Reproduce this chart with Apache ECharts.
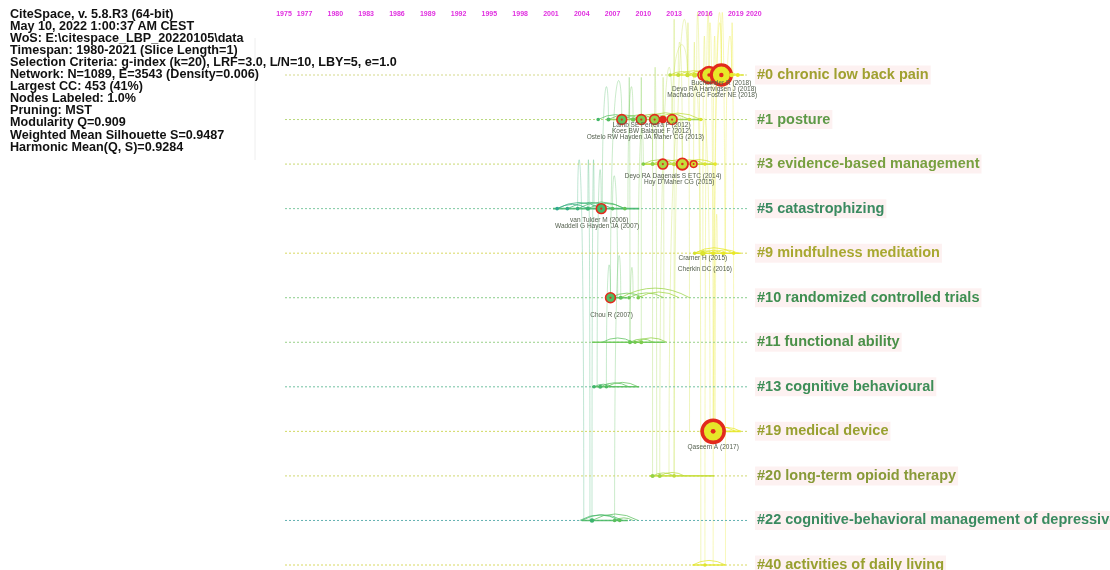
<!DOCTYPE html>
<html><head><meta charset="utf-8">
<script src="https://cdn.jsdelivr.net/npm/echarts@6/dist/echarts.min.js"></script>
<style>html,body{margin:0;padding:0;background:#fff}#c{width:1110px;height:570px}</style>
</head><body><div id="c"></div><script>
const infoLines = [
  'CiteSpace, v. 5.8.R3 (64-bit)',
  'May 10, 2022 1:00:37 AM CEST',
  'WoS: E:\\citespace_LBP_20220105\\data',
  'Timespan: 1980-2021 (Slice Length=1)',
  'Selection Criteria: g-index (k=20), LRF=3.0, L/N=10, LBY=5, e=1.0',
  'Network: N=1089, E=3543 (Density=0.006)',
  'Largest CC: 453 (41%)',
  'Nodes Labeled: 1.0%',
  'Pruning: MST',
  'Modularity Q=0.909',
  'Weighted Mean Silhouette S=0.9487',
  'Harmonic Mean(Q, S)=0.9284'
];
const yearTicks = [1975,1977,1980,1983,1986,1989,1992,1995,1998,2001,2004,2007,2010,2013,2016,2019,2020];
const clusterLabels = [
  '#0 chronic low back pain','#1 posture','#3 evidence-based management','#5 catastrophizing',
  '#9 mindfulness meditation','#10 randomized controlled trials','#11 functional ability',
  '#13 cognitive behavioural','#19 medical device','#20 long-term opioid therapy',
  '#22 cognitive-behavioral management of depressive','#40 activities of daily living'
];
const clusterLabelColors = ['#a0a030','#5e9a48','#78a040','#3a8a60','#a8a830','#3e8e50','#4a9048','#3e8e58','#98a030','#889a38','#3a8a60','#98a030'];
const clusterLineColors = ['#d4d88a','#b8d87a','#c8d870','#7cc8a0','#d8d860','#88cc88','#98d088','#70c0a0','#d0d860','#d0d870','#60b0b0','#d8d860'];
// active period of each cluster (years)
const spanStart = [2012.5,2006.5,2010.0,2001.2,2015.0,2006.8,2005.0,2005.0,2015.5,2010.6,2004.0,2014.8];
const spanEnd   = [2019.8,2015.5,2017.0,2009.6,2019.5,2008.4,2012.1,2009.6,2019.5,2016.9,2008.5,2018.0];
// nodes: [year, cluster row, citations, burst (0 none, 1 ring, 2 solid)]
const nodes = [
  [2012.6,0,4,0],[2013.4,0,5,0],[2014.3,0,6,0],[2015.0,0,8,0],[2015.8,0,30,1],[2016.4,0,80,1],[2017.6,0,125,1],[2018.6,0,6,0],[2019.2,0,5,0],
  [2005.6,1,4,0],[2006.6,1,5,0],[2007.9,1,30,1],[2009.0,1,6,0],[2009.8,1,30,1],[2011.1,1,30,1],[2011.9,1,18,2],[2012.8,1,30,1],[2014.5,1,4,0],[2015.6,1,4,0],
  [2010.0,2,4,0],[2010.9,2,5,0],[2011.9,2,30,1],[2013.0,2,6,0],[2013.8,2,40,1],[2014.9,2,14,1],[2016.0,2,4,0],[2017.0,2,4,0],
  [2001.6,3,4,0],[2002.6,3,4,0],[2003.6,3,4,0],[2004.6,3,5,0],[2005.9,3,30,1],[2007.0,3,4,0],[2008.2,3,4,0],
  [2015.0,4,4,0],[2015.8,4,8,0],[2016.8,4,5,0],[2017.8,4,5,0],[2018.8,4,4,0],
  [2006.8,5,30,1],[2007.8,5,5,0],[2008.6,5,4,0],[2009.5,5,4,0],
  [2008.7,6,5,0],[2009.2,6,4,0],[2009.8,6,5,0],
  [2005.2,7,4,0],[2005.8,7,5,0],[2006.4,7,4,0],
  [2016.8,8,150,1],
  [2010.9,9,5,0],[2011.6,9,5,0],[2013.0,9,4,0],
  [2005.0,10,6,0],[2007.2,10,4,0],[2007.7,10,4,0],
  [2016.0,11,4,0]
];
// co-citation arcs inside a cluster: [row, fromYear, toYear]
const arcs = [
  [0,2012.6,2015.0],[0,2013.4,2016.4],[0,2014.3,2017.6],[0,2015.0,2018.6],[0,2016.4,2019.2],[0,2015.8,2017.6],
  [1,2005.6,2009.0],[1,2006.6,2009.8],[1,2007.9,2011.1],[1,2009.0,2012.8],[1,2009.8,2014.5],[1,2011.1,2015.6],
  [2,2010.0,2013.0],[2,2010.9,2013.8],[2,2011.9,2014.9],[2,2013.0,2016.0],[2,2013.8,2017.0],
  [3,2001.6,2005.9],[3,2002.6,2007.0],[3,2003.6,2008.2],[3,2001.6,2004.6],[3,2004.6,2008.2],
  [4,2015.0,2018.8],[4,2015.8,2017.8],[4,2016.8,2019.2],[4,2015.0,2016.8],
  [5,2006.8,2010.0],[5,2007.8,2014.5],[5,2008.6,2012.0],[5,2009.5,2013.5],
  [6,2008.7,2011.0],[6,2009.2,2012.3],[6,2006.0,2009.0],
  [7,2005.2,2007.0],[7,2005.8,2008.6],[7,2006.4,2009.5],
  [8,2015.5,2019.0],[8,2016.8,2019.5],
  [9,2010.9,2013.0],[9,2011.6,2014.0],
  [10,2004.0,2008.0],[10,2005.0,2009.5],[10,2003.8,2007.7],[10,2007.2,2009.0],
  [11,2014.8,2018.0]
];
// links between clusters: [year1, row1, year2, row2]
const links = [
  [2016.8,8,2016.4,0],[2016.9,8,2017.6,0],[2016.5,8,2015.8,2],[2017.0,8,2017.2,4],[2015.8,4,2016.0,0],
  [2016.8,4,2017.0,0],[2018.0,4,2018.6,0],[2016.0,11,2016.4,0],[2015.6,11,2015.2,0],[2016.8,11,2017.6,0],
  [2013.0,9,2014.3,0],[2011.6,9,2012.8,1],[2012.5,9,2013.8,2],[2014.9,2,2015.0,0],[2013.8,2,2013.4,0],
  [2012.8,1,2014.3,0],[2011.9,1,2012.0,6],[2011.1,1,2011.3,9],[2009.8,1,2009.8,6],[2008.6,1,2008.7,6],
  [2007.9,1,2006.8,5],[2006.6,1,2006.0,3],[2005.9,3,2005.5,7],[2005.2,3,2005.0,10],[2004.6,3,2004.8,10],
  [2003.6,3,2004.2,10],[2006.8,5,2006.4,7],[2007.8,5,2007.2,10],[2009.0,5,2008.7,6],[2010.0,2,2009.5,5],
  [2010.9,2,2010.9,9],[2013.0,0,2013.0,9],[2014.3,0,2014.5,8],[2017.6,0,2018.0,11],[2018.6,0,2018.8,8],
  [2015.0,1,2015.5,4],[2009.0,1,2008.5,3],[2007.0,3,2007.5,5]
];
// node labels: [text, year, row, line below node]
const nodeLabels = [
  ['Buchbinder R (2018)',2017.6,0,0.2],['Deyo RA Hartvigsen J (2018)',2016.9,0,1.2],['Machado GC Foster NE (2018)',2016.7,0,2.2],
  ['Lamb SE Ferreira P (2012)',2010.8,1,-0.2],['Koes BW Balagué F (2012)',2010.8,1,0.7],['Ostelo RW Hayden JA Maher CG (2013)',2010.2,1,1.7],
  ['Deyo RA Dagenais S ETC (2014)',2012.9,2,0.8],['Hoy D Maher CG (2015)',2013.5,2,1.8],
  ['van Tulder M (2006)',2005.7,3,0.7],['Waddell G Hayden JA (2007)',2005.5,3,1.7],
  ['Cramer H (2015)',2015.8,4,-0.3],['Cherkin DC (2016)',2016.0,4,1.5],
  ['Chou R (2007)',2006.9,5,1.7],
  ['Qaseem A (2017)',2016.8,8,1.5]
];

function yearColor(y, a) {
  const st = [[2000,[40,160,160]],[2005,[60,180,110]],[2009,[110,200,80]],[2013,[190,220,60]],[2017,[232,232,40]]];
  let c = st[st.length-1][1];
  if (y <= st[0][0]) c = st[0][1];
  else for (let k=0;k<st.length-1;k++){
    if (y>=st[k][0] && y<=st[k+1][0]) {
      const t=(y-st[k][0])/(st[k+1][0]-st[k][0]);
      c = st[k][1].map((v,j)=>Math.round(v+(st[k+1][1][j]-v)*t));
      break;
    }
  }
  return 'rgba('+c[0]+','+c[1]+','+c[2]+','+a+')';
}
const radius = c => 0.9*Math.sqrt(c);
const FONT = '"Liberation Sans", Arial, sans-serif';

const chart = echarts.init(document.getElementById('c'), null, {renderer:'canvas'});
chart.setOption({
  animation:false,
  backgroundColor:'#ffffff',
  title:{
    text: infoLines.join('\n'), left:5, top:3,
    textStyle:{fontSize:12.6, fontWeight:'bold', color:'#111', lineHeight:12.1, fontFamily:FONT}
  },
  graphic:[{type:'line', shape:{x1:255,y1:38,x2:255,y2:160}, style:{stroke:'#eeeeee', lineWidth:1}}],
  grid:{left:284, right:364, top:75, bottom:5},
  xAxis:{type:'value', min:1975, max:2020, position:'top',
    axisLine:{show:false}, axisTick:{show:false}, splitLine:{show:false},
    axisLabel:{customValues:yearTicks, showMinLabel:true, showMaxLabel:true, hideOverlap:false,
      color:'#e030e0', fontSize:7, fontWeight:'bold', margin:57, fontFamily:FONT,
      alignMaxLabel:'left', formatter:v=>String(v)}},
  yAxis:{type:'value', min:0, max:11, inverse:true, show:false},
  series:[
    {type:'custom', data:links, z:1, silent:true, renderItem:(p,api)=>{
      const d=links[p.dataIndex];
      const a=api.coord([d[0],d[1]]), b=api.coord([d[2],d[3]]);
      const top=api.coord([d[0],Math.min(d[1],d[3])-0.65])[1];
      const yc=(top-0.125*(a[1]+b[1]))/0.75;
      return {type:'bezierCurve', shape:{x1:a[0],y1:a[1],x2:b[0],y2:b[1],cpx1:a[0],cpy1:yc,cpx2:b[0],cpy2:yc},
        style:{stroke:yearColor((d[0]+d[2])/2,0.4), fill:null, lineWidth:0.8}};
    }},
    {type:'custom', data:clusterLabels.map((t,i)=>[i,i]), z:2, silent:true, renderItem:(p,api)=>{
      const i=p.dataIndex;
      const a=api.coord([1975.1,i]), b=api.coord([2020.2,i]);
      const s=api.coord([spanStart[i],i]), e=api.coord([spanEnd[i],i]);
      return {type:'group', children:[
        {type:'line', shape:{x1:a[0],y1:a[1],x2:b[0],y2:b[1]}, style:{stroke:clusterLineColors[i], lineWidth:1, lineDash:[2,2]}},
        {type:'line', shape:{x1:s[0],y1:s[1],x2:e[0],y2:e[1]}, style:{stroke:yearColor((spanStart[i]+spanEnd[i])/2,0.9), lineWidth:1.6}},
        {type:'text', x:b[0]+7, y:b[1], style:{text:clusterLabels[i], fill:clusterLabelColors[i],
          font:'bold 14.5px '+FONT, textAlign:'left', textVerticalAlign:'middle', align:'left', verticalAlign:'middle',
          backgroundColor:'rgba(252,232,232,0.6)', padding:[2,2,2,2]}}
      ]};
    }},
    {type:'custom', data:arcs, z:3, silent:true, renderItem:(p,api)=>{
      const d=arcs[p.dataIndex];
      const a=api.coord([d[1],d[0]]), b=api.coord([d[2],d[0]]);
      const span=b[0]-a[0];
      return {type:'bezierCurve', shape:{x1:a[0],y1:a[1],x2:b[0],y2:b[1],cpx1:(a[0]+b[0])/2,cpy1:a[1]-span*0.28},
        style:{stroke:yearColor((d[1]+d[2])/2,0.75), fill:null, lineWidth:1}};
    }},
    {type:'custom', data:nodes, z:4, silent:true, renderItem:(p,api)=>{
      const d=nodes[p.dataIndex];
      const c=api.coord([d[0],d[1]]); const r=radius(d[2]);
      const ch=[];
      if (d[3]===1) {
        ch.push({type:'circle', shape:{cx:c[0],cy:c[1],r:r}, style:{fill:yearColor(d[0],1), stroke:'#e22a1c', lineWidth:Math.max(1.5,r*0.32)}});
        ch.push({type:'circle', shape:{cx:c[0],cy:c[1],r:Math.max(1,r*0.22)}, style:{fill:'#e22a1c'}});
      } else if (d[3]===2) {
        ch.push({type:'circle', shape:{cx:c[0],cy:c[1],r:r}, style:{fill:'#e22a1c'}});
      } else {
        ch.push({type:'circle', shape:{cx:c[0],cy:c[1],r:r}, style:{fill:yearColor(d[0],1)}});
      }
      return {type:'group', children:ch};
    }},
    {type:'custom', data:nodeLabels.map(l=>[l[1],l[2]]), z:5, silent:true, renderItem:(p,api)=>{
      const d=nodeLabels[p.dataIndex];
      const c=api.coord([d[1],d[2]]);
      return {type:'text', x:c[0], y:c[1]+7+6*d[3], style:{text:d[0], fill:'#55604f', font:'6.5px '+FONT,
        textAlign:'center', textVerticalAlign:'middle', align:'center', verticalAlign:'middle'}};
    }}
  ]
});
</script></body></html>
